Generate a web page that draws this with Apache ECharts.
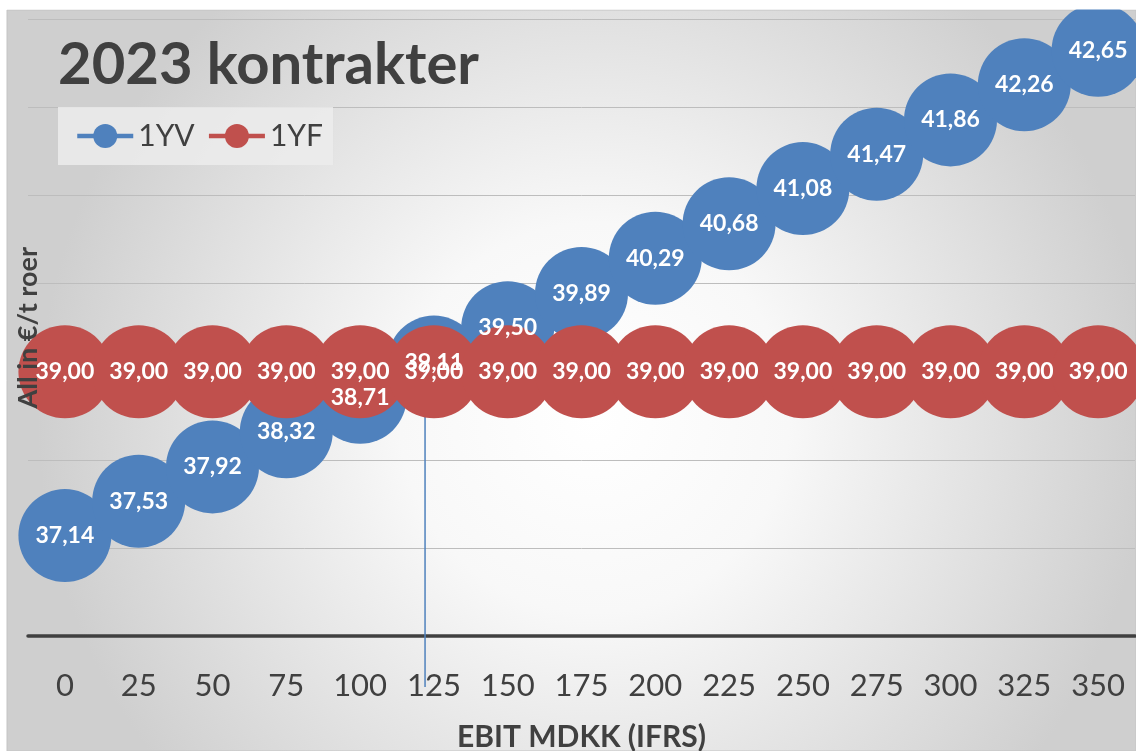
<!DOCTYPE html>
<html>
<head>
<meta charset="utf-8">
<script src="https://cdn.jsdelivr.net/npm/echarts@6/dist/echarts.min.js"></script>
<style>
  html, body { margin: 0; padding: 0; background: #fff; }
  #chart { width: 1136px; height: 751px; }
</style>
</head>
<body>
<div id="chart"></div>
<script>
// EBIT steps on the x axis
const categories = ['0', '25', '50', '75', '100', '125', '150', '175', '200', '225', '250', '275', '300', '325', '350'];
const yvValues = [37.14, 37.53, 37.92, 38.32, 38.71, 39.11, 39.50, 39.89, 40.29, 40.68, 41.08, 41.47, 41.86, 42.26, 42.65];
const yfValues = [39.00, 39.00, 39.00, 39.00, 39.00, 39.00, 39.00, 39.00, 39.00, 39.00, 39.00, 39.00, 39.00, 39.00, 39.00];
// drop line at break-even EBIT
const breakEven = [[122, 39.0], [122, 35.42]];

const blue = '#4f81bd';
const red = '#c0504d';
const txt = '#404040';
const font = 'Lato';

const fmt = p => p.value.toFixed(2).replace('.', ',');

const myChart = echarts.init(document.getElementById('chart'));

const bubbleLabel = {
    show: true,
    position: 'inside',
    color: '#fff',
    fontFamily: font,
    fontWeight: 'bold',
    fontSize: 23,
    formatter: fmt
};

const option = {
    backgroundColor: '#fff',
    animation: false,
    graphic: [
        {
            type: 'rect',
            z: -10,
            shape: { x: 7, y: 10, width: 1129, height: 741 },
            style: {
                fill: {
                    type: 'radial', x: 0.52, y: 0.55, r: 0.75,
                    colorStops: [
                        { offset: 0, color: '#ffffff' },
                        { offset: 0.35, color: '#f8f8f8' },
                        { offset: 1, color: '#cfcfcf' }
                    ]
                },
                stroke: '#c4c4c4',
                lineWidth: 1
            }
        },
        {
            type: 'rect',
            z: 100,
            shape: { x: 0, y: 0, width: 1136, height: 9.5 },
            style: { fill: '#fff' }
        }
    ],
    title: {
        text: '2023 kontrakter',
        left: 53,
        top: 31,
        textStyle: { fontFamily: font, fontWeight: 'bold', fontSize: 58, color: txt }
    },
    legend: {
        data: ['1YV', '1YF'],
        left: 58,
        top: 107,
        backgroundColor: 'rgba(236,236,236,0.85)',
        padding: [14, 10, 14, 17],
        itemWidth: 56,
        itemHeight: 30,
        itemGap: 12,
        lineStyle: { width: 4.5 },
        textStyle: { fontFamily: font, fontSize: 30, color: txt }
    },
    grid: { left: 28, right: 1, top: 19.5, bottom: 115, containLabel: false, outerBoundsMode: 'none' },
    xAxis: [
        {
            type: 'category',
            data: categories,
            name: 'EBIT MDKK (IFRS)',
            nameLocation: 'middle',
            nameGap: 86,
            nameTextStyle: { fontFamily: font, fontWeight: 'bold', fontSize: 30, color: txt },
            axisLine: { lineStyle: { color: '#404040', width: 3.5 } },
            axisTick: { show: false },
            axisLabel: { fontFamily: font, fontSize: 31, color: txt, margin: 34 }
        },
        {
            type: 'value',
            min: -12.5,
            max: 362.5,
            show: false
        }
    ],
    yAxis: [
        {
            type: 'value',
            min: 36,
            max: 43,
            interval: 1,
            axisLine: { show: false },
            axisTick: { show: false },
            axisLabel: { show: false },
            splitLine: { lineStyle: { color: '#bdbdbd', width: 1 } }
        },
        {
            // name only, kept above the bubbles
            type: 'value',
            position: 'left',
            z: 10,
            min: 36,
            max: 43,
            interval: 1,
            name: 'All in €/t roer',
            nameLocation: 'middle',
            nameGap: -14,
            nameRotate: 90,
            nameTextStyle: { fontFamily: font, fontWeight: 'bold', fontSize: 27, color: txt },
            axisLine: { show: false },
            axisTick: { show: false },
            axisLabel: { show: false },
            splitLine: { show: false }
        }
    ],
    series: [
        {
            name: 'drop',
            type: 'line',
            xAxisIndex: 1,
            data: breakEven,
            clip: false,
            symbol: 'none',
            z: 1,
            lineStyle: { color: blue, width: 1.5 },
            silent: true
        },
        {
            name: '1YV',
            type: 'line',
            data: yvValues,
            symbol: 'circle',
            symbolSize: 93,
            clip: false,
            itemStyle: { color: blue },
            lineStyle: { color: blue, width: 4 },
            label: bubbleLabel
        },
        {
            name: '1YF',
            type: 'line',
            data: yfValues,
            symbol: 'circle',
            symbolSize: 93,
            clip: false,
            itemStyle: { color: red },
            lineStyle: { color: red, width: 4 },
            label: bubbleLabel
        }
    ]
};

myChart.setOption(option);
</script>
</body>
</html>
